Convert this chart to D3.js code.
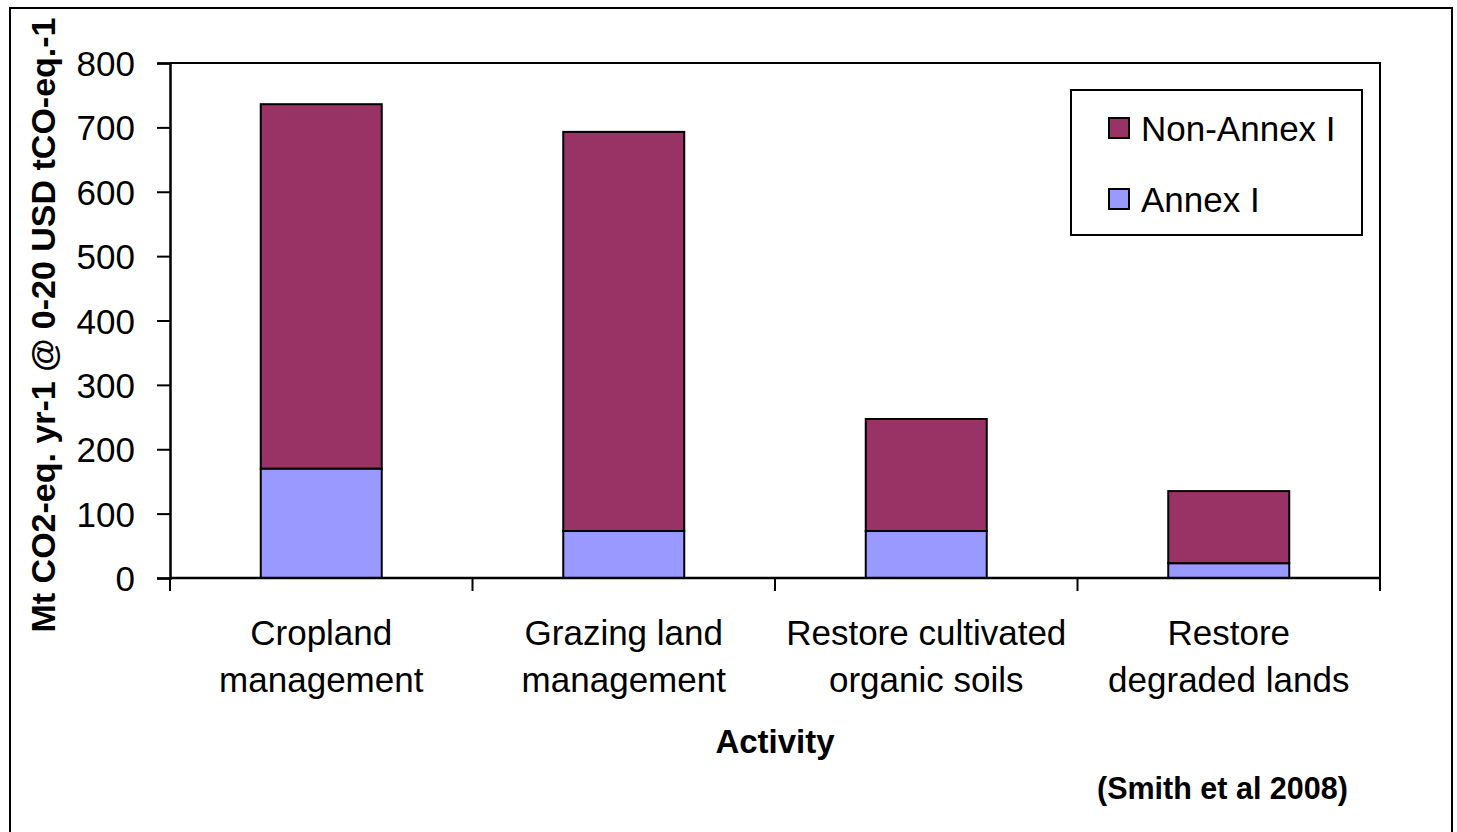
<!DOCTYPE html>
<html>
<head>
<meta charset="utf-8">
<script src="https://cdn.jsdelivr.net/npm/d3@7"></script>
<style>
  body { margin: 0; background: #fff; }
  text { font-family: "Liberation Sans", Arial, sans-serif; fill: #000; }
</style>
</head>
<body>
<div id="chart"></div>
<script>
// data
var categories = [["Cropland", "management"], ["Grazing land", "management"],
                  ["Restore cultivated", "organic soils"], ["Restore", "degraded lands"]];
var annexI = [170, 73, 73, 23];
var nonAnnexI = [566, 620, 174, 112];
var yTicks = [0, 100, 200, 300, 400, 500, 600, 700, 800];
var seriesNames = ["Non-Annex I", "Annex I"];
var colors = { "Annex I": "#9999ff", "Non-Annex I": "#993366" };

var W = 1457, H = 832;
var margin = { top: 63, right: 77, bottom: 254, left: 170 };
var width = W - margin.left - margin.right,
    height = H - margin.top - margin.bottom;

var svg = d3.select("#chart").append("svg")
  .attr("width", W).attr("height", H);

// outer frame
svg.append("rect")
  .attr("x", 10).attr("y", 8).attr("width", 1442).attr("height", 840)
  .attr("fill", "none").attr("stroke", "#000").attr("stroke-width", 2);

var g = svg.append("g")
  .attr("transform", "translate(" + margin.left + "," + margin.top + ")");

var idx = categories.map(function (d, i) { return i; });
var x = d3.scaleBand().domain(idx).range([0, width]).paddingInner(0).paddingOuter(0);
var y = d3.scaleLinear().domain([0, 800]).range([height, 0]);

// plot border top/right
g.append("path")
  .attr("d", "M0,0H" + width + "V" + height)
  .attr("fill", "none").attr("stroke", "#000").attr("stroke-width", 2);

var stackData = idx.map(function (i) {
  return { i: i, "Annex I": annexI[i], "Non-Annex I": nonAnnexI[i] };
});
var stack = d3.stack().keys(["Annex I", "Non-Annex I"])(stackData);

var bw = x.bandwidth() * 0.4;
g.selectAll(".layer")
  .data(stack)
  .enter().append("g")
  .attr("fill", function (d) { return colors[d.key]; })
  .selectAll("rect")
  .data(function (d) { return d; })
  .enter().append("rect")
  .attr("x", function (d) { return x(d.data.i) + (x.bandwidth() - bw) / 2; })
  .attr("width", bw)
  .attr("y", function (d) { return y(d[1]); })
  .attr("height", function (d) { return y(d[0]) - y(d[1]); })
  .attr("stroke", "#000").attr("stroke-width", 2);

// y axis
var yAxis = d3.axisLeft(y).tickValues(yTicks).tickSize(13).tickPadding(22);
var ya = g.append("g").call(yAxis);
ya.select(".domain").attr("stroke-width", 2.5);
ya.selectAll(".tick line").attr("stroke-width", 2);
ya.selectAll("text").style("font-size", "35px").attr("dy", "0.36em");

// x axis with ticks at category boundaries
var xa = g.append("g").attr("transform", "translate(0," + height + ")");
xa.append("line").attr("x1", 0).attr("x2", width).attr("stroke", "#000").attr("stroke-width", 2.5);
var bounds = idx.map(function (i) { return x(i); }).concat([width]);
xa.selectAll(".bt").data(bounds).enter().append("line")
  .attr("x1", function (d) { return d; }).attr("x2", function (d) { return d; })
  .attr("y1", 0).attr("y2", 13).attr("stroke", "#000").attr("stroke-width", 2);

var lab = xa.selectAll(".lab").data(categories).enter().append("text")
  .attr("text-anchor", "middle")
  .style("font-size", "35px")
  .attr("transform", function (d, i) { return "translate(" + (x(i) + x.bandwidth() / 2) + ",0)"; });
lab.selectAll("tspan").data(function (d) { return d; }).enter().append("tspan")
  .attr("x", 0)
  .attr("y", function (d, j) { return 67 + j * 47; })
  .text(function (d) { return d; });

// axis titles
svg.append("text")
  .attr("transform", "translate(55,325) rotate(-90)")
  .attr("text-anchor", "middle")
  .style("font-size", "34px").style("font-weight", "bold")
  .text("Mt CO2-eq. yr-1 @ 0-20 USD tCO-eq.-1");

svg.append("text")
  .attr("x", 775).attr("y", 753)
  .attr("text-anchor", "middle")
  .style("font-size", "33px").style("font-weight", "bold")
  .text("Activity");

svg.append("text")
  .attr("x", 1097).attr("y", 799)
  .style("font-size", "30.5px").style("font-weight", "bold")
  .text("(Smith et al 2008)");

// legend
var leg = svg.append("g").attr("transform", "translate(1071,90)");
leg.append("rect").attr("width", 291).attr("height", 145)
  .attr("fill", "#fff").attr("stroke", "#000").attr("stroke-width", 2);
var li = leg.selectAll(".li").data(seriesNames).enter().append("g")
  .attr("transform", function (d, i) { return "translate(38," + (38 + i * 71) + ")"; });
li.append("rect").attr("x", 0).attr("y", -10).attr("width", 20).attr("height", 20)
  .attr("fill", function (d) { return colors[d]; })
  .attr("stroke", "#000").attr("stroke-width", 2);
li.append("text").attr("x", 32).attr("dy", "0.36em")
  .style("font-size", "35px")
  .text(function (d) { return d; });
</script>
</body>
</html>
